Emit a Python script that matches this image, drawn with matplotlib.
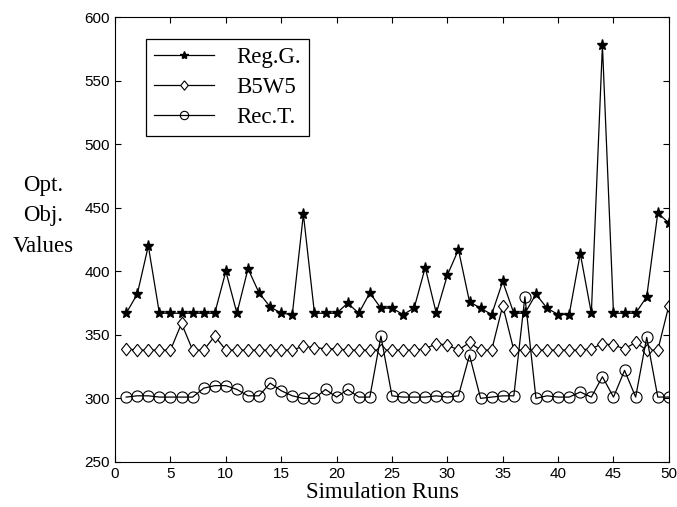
import numpy as np
import matplotlib
matplotlib.use("Agg")
import matplotlib.pyplot as plt

runs = list(range(1, 51))

reg_g = [367, 382, 420, 367, 367, 367, 367, 367, 367, 400,
         367, 402, 383, 372, 367, 366, 445, 367, 367, 367,
         375, 367, 383, 371, 371, 366, 371, 403, 367, 397,
         417, 376, 371, 366, 392, 367, 367, 382, 371, 366,
         366, 414, 367, 578, 367, 367, 367, 380, 446, 438]

b5w5 = [339, 338, 338, 338, 338, 359, 338, 338, 349, 338,
        338, 338, 338, 338, 338, 338, 341, 340, 339, 339,
        338, 338, 338, 338, 338, 338, 338, 339, 343, 342,
        338, 344, 338, 338, 373, 338, 338, 338, 338, 338,
        338, 338, 339, 343, 342, 339, 344, 338, 338, 373]

rec_t = [301, 302, 302, 301, 301, 301, 301, 308, 310, 310,
         307, 302, 302, 312, 306, 302, 300, 300, 307, 301,
         307, 301, 301, 349, 302, 301, 301, 301, 302, 301,
         302, 334, 300, 301, 302, 302, 380, 300, 302, 301,
         301, 305, 301, 317, 301, 322, 301, 348, 301, 301]

labels = ['Reg.G.', 'B5W5', 'Rec.T.']

serif = ['Liberation Serif', 'DejaVu Serif']
sans = ['Liberation Sans', 'DejaVu Sans']

# diamond a bit wider than matplotlib's thin 'd'
diamond = [(0, 1), (0.8, 0), (0, -1), (-0.8, 0), (0, 1)]

fig = plt.figure(figsize=(6.77, 5.07), dpi=100)
ax = fig.add_axes([0.170, 0.089, 0.818, 0.877])

ax.plot(runs, reg_g, color='black', lw=0.9, marker='*', ms=8, label=labels[0])
ax.plot(runs, b5w5, color='black', lw=0.9, marker=diamond, ms=9, mfc='white', mew=0.8, label=labels[1])
ax.plot(runs, rec_t, color='black', lw=0.9, marker='o', ms=8, mfc='none', mew=0.8, label=labels[2])

ax.set_xlim(0, 50)
ax.set_ylim(250, 600)
ax.set_xticks(range(0, 51, 5))
ax.set_yticks(range(250, 601, 50))
ax.tick_params(direction='in', top=True, right=True, length=4, labelsize=11)
for t in ax.get_xticklabels() + ax.get_yticklabels():
    t.set_family(sans)

ax.set_xlabel('Simulation Runs', family=serif, fontsize=16.5, labelpad=1)
ax.xaxis.set_label_coords(0.482, -0.045, transform=ax.transAxes)
ax.xaxis.label.set_va('top')
fig.text(0.064, 0.574, 'Opt.\nObj.\nValues', family=serif, fontsize=16.5,
         ha='center', va='center', linespacing=1.6)

leg = ax.legend(loc='upper left', bbox_to_anchor=(0.056, 0.951), borderaxespad=0,
                prop={'family': serif, 'size': 16.5},
                fancybox=False, edgecolor='black', framealpha=1, handlelength=2.6,
                handletextpad=1.0, borderpad=0.35, labelspacing=0.38, markerscale=0.75)
leg.get_frame().set_linewidth(0.9)

fig.savefig('out.png', dpi=100)
